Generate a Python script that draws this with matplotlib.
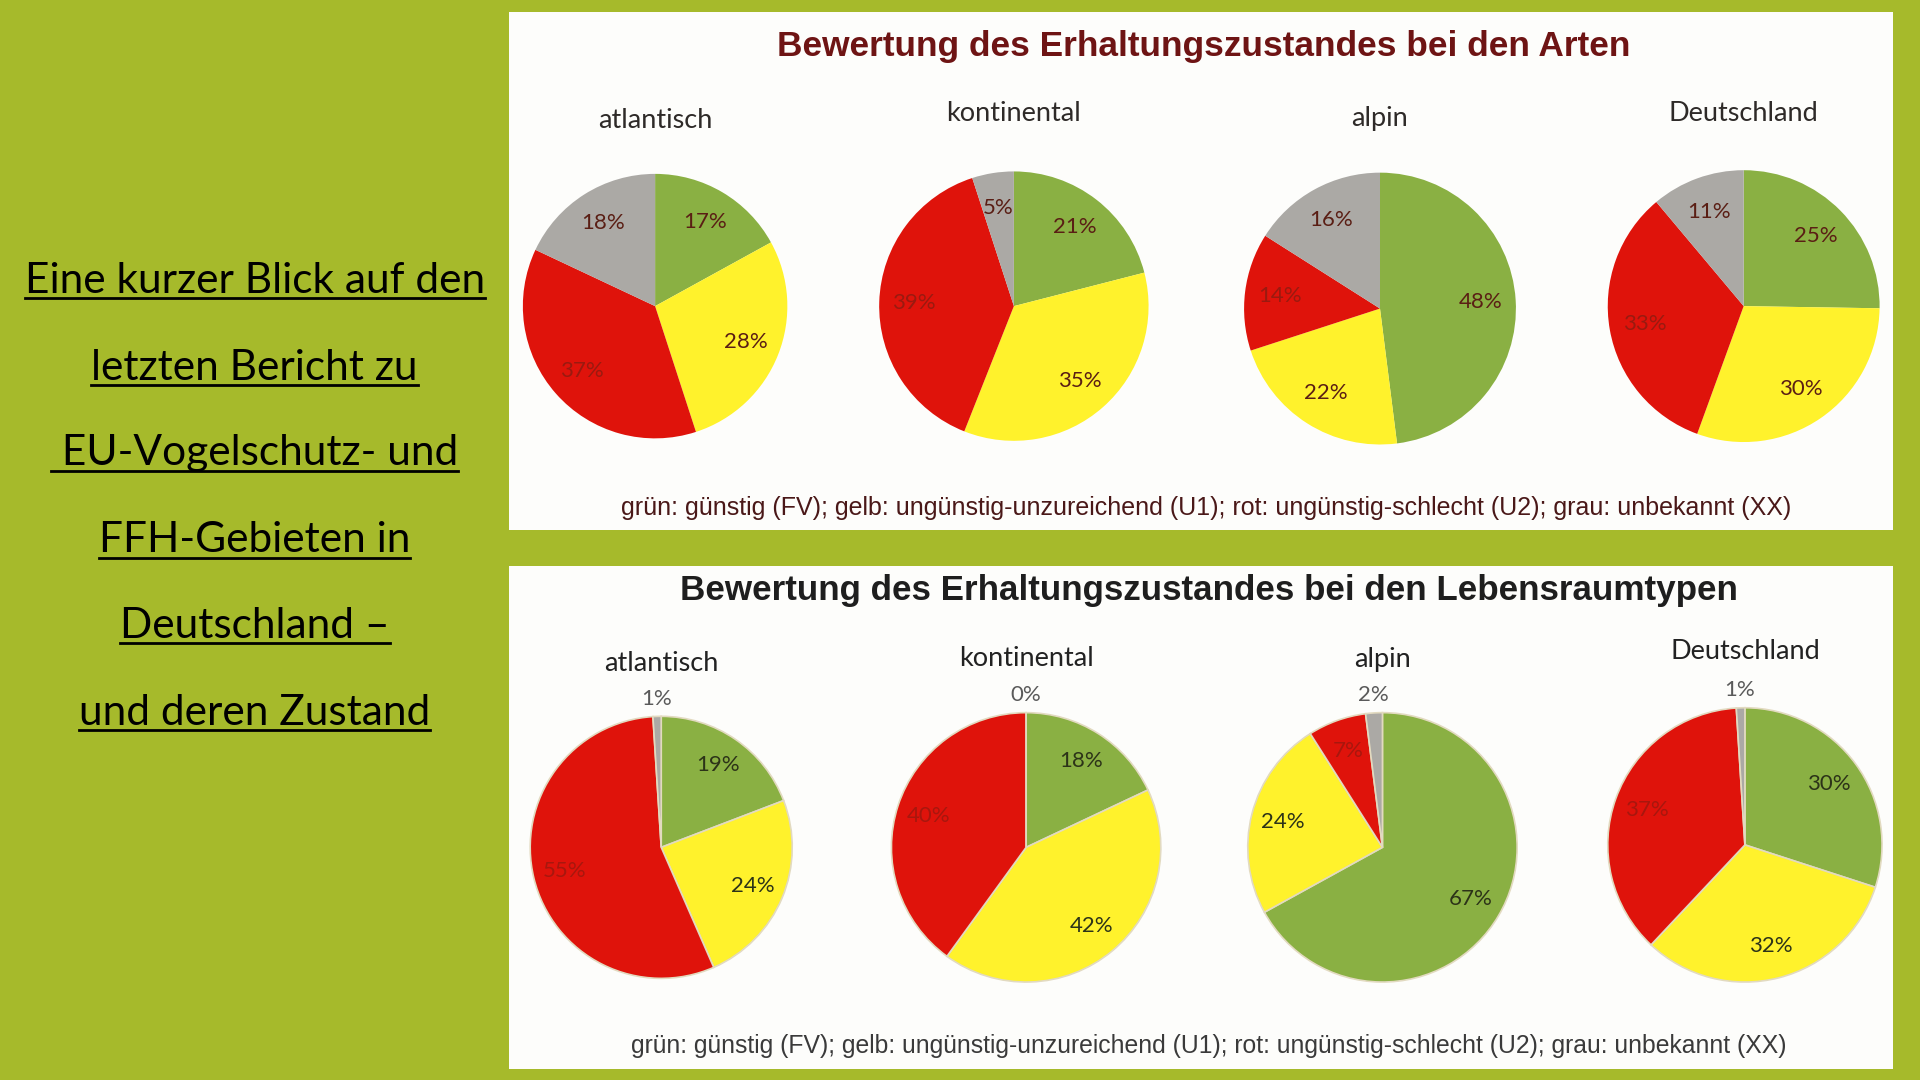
import matplotlib
matplotlib.use("Agg")
import matplotlib.pyplot as plt
from matplotlib.patches import Rectangle
from matplotlib.lines import Line2D
import numpy as np

# reference layout space (scaled to 1920x1080 output)
W, H = 1568, 882
def fx(x): return x / W
def fy(y): return 1 - y / H

BG = "#A6BA2B"

# ---------------- data ----------------
regions = ["atlantisch", "kontinental", "alpin", "Deutschland"]
status = ["günstig (FV)", "ungünstig-unzureichend (U1)", "ungünstig-schlecht (U2)", "unbekannt (XX)"]

arten_atlantisch = [17, 28, 37, 18]
arten_kontinental = [21, 35, 39, 5]
arten_alpin = [48, 22, 14, 16]
arten_deutschland = [25, 30, 33, 11]

lrt_atlantisch = [19, 24, 55, 1]
lrt_kontinental = [18, 42, 40, 0]
lrt_alpin = [67, 24, 7, 2]
lrt_deutschland = [30, 32, 37, 1]

title_arten = "Bewertung des Erhaltungszustandes bei den Arten"
title_lrt = "Bewertung des Erhaltungszustandes bei den Lebensraumtypen"
legend_text = "grün: günstig (FV); gelb: ungünstig-unzureichend (U1); rot: ungünstig-schlecht (U2); grau: unbekannt (XX)"
left_lines = ["Eine kurzer Blick auf den", "letzten Bericht zu", " EU-Vogelschutz- und",
              "FFH-Gebieten in", "Deutschland –", "und deren Zustand"]

colors = ["#8AB043", "#FFF22C", "#DF130B", "#ABA9A5"]

# ---------------- figure ----------------
fig = plt.figure(figsize=(19.2, 10.8), dpi=100)
fig.patch.set_facecolor(BG)

# white panels
for (x0, y0, x1, y1) in [(416, 10, 1546, 433), (416, 462, 1546, 873)]:
    fig.patches.append(Rectangle((fx(x0), fy(y1)), fx(x1) - fx(x0), fy(y0) - fy(y1),
                                 transform=fig.transFigure, facecolor="#FDFDFB",
                                 edgecolor="none", zorder=-10))

# left text
left_font = ["Lato", "DejaVu Sans"]
baselines = [239, 310, 380, 451, 521, 592]
left_texts = []
for line, yb in zip(left_lines, baselines):
    t = fig.text(fx(208), fy(yb), line, ha="center", va="baseline", fontsize=30.5,
                 family=left_font, color="black")
    left_texts.append((t, yb))

# titles and legends
fig.text(fx(983), fy(38), title_arten, ha="center", va="center", fontsize=25.4,
         fontweight="bold", family="Liberation Sans", color="#6E1414")
fig.text(fx(987), fy(482), title_lrt, ha="center", va="center", fontsize=25.2,
         fontweight="bold", family="Liberation Sans", color="#1E1E1E")
fig.text(fx(985), fy(415), legend_text, ha="center", va="center", fontsize=18,
         family="Liberation Sans", color="#4A1818")
fig.text(fx(987), fy(854), legend_text, ha="center", va="center", fontsize=17.8,
         family="Liberation Sans", color="#3A3A3A")

label_font = ["Lato", "DejaVu Sans"]

def draw_pie(vals, cx, cy, r, subtitle, sub_y, top):
    ax = fig.add_axes([fx(cx - r), fy(cy + r), 2 * r / W, 2 * r / H])
    wedges, _ = ax.pie(vals, colors=colors, startangle=90, counterclock=False,
                       radius=1.0,
                       wedgeprops=dict(linewidth=0 if top else 1.2,
                                       edgecolor="#E2DAC0"))
    ax.set_xlim(-1, 1)
    ax.set_ylim(-1, 1)
    ax.set_aspect("equal")
    ax.axis("off")
    for i, (w, v) in enumerate(zip(wedges, vals)):
        mid = np.deg2rad((w.theta1 + w.theta2) / 2)
        if top:
            d = 0.74
            col = "#9A1A10" if i == 2 else "#5A1E14"
        else:
            if v <= 2:
                d = 1.13
                col = "#5A5A5A"
            else:
                d = 0.76
                col = "#A8170E" if i == 2 else "#2C3318"
        ax.text(d * np.cos(mid), d * np.sin(mid), f"{v}%", ha="center", va="center",
                fontsize=16, family=label_font, color=col, clip_on=False)
    fig.text(fx(cx), fy(sub_y), subtitle, ha="center", va="center", fontsize=19.5,
             family=label_font, color="#2E2A28" if top else "#222222")

top_vals = [arten_atlantisch, arten_kontinental, arten_alpin, arten_deutschland]
top_geom = [(535, 250, 108, 98), (828, 250, 110, 93), (1127, 252, 111, 97), (1424, 250, 111, 93)]
for vals, reg, (cx, cy, r, sy) in zip(top_vals, regions, top_geom):
    draw_pie(vals, cx, cy, r, reg, sy, True)

bot_vals = [lrt_atlantisch, lrt_kontinental, lrt_alpin, lrt_deutschland]
bot_geom = [(540, 692, 107, 542), (838, 692, 110, 538), (1129, 692, 110, 539), (1425, 690, 112, 532)]
for vals, reg, (cx, cy, r, sy) in zip(bot_vals, regions, bot_geom):
    draw_pie(vals, cx, cy, r, reg, sy, False)

# underlines for left text
fig.canvas.draw()
renderer = fig.canvas.get_renderer()
for t, yb in left_texts:
    bb = t.get_window_extent(renderer)
    x0 = bb.x0 / fig.bbox.width
    x1 = bb.x1 / fig.bbox.width
    yl = fy(yb + 4.5)
    fig.lines.append(Line2D([x0, x1], [yl, yl], transform=fig.transFigure,
                            color="black", linewidth=2.0))

fig.savefig("out.png", dpi=100, facecolor=BG)
